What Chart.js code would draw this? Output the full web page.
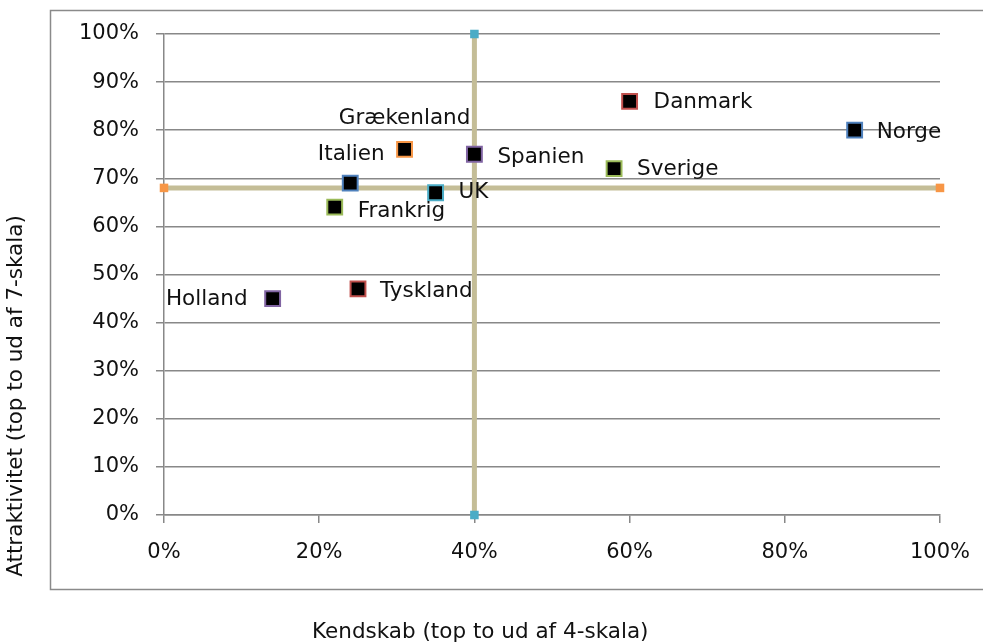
<!DOCTYPE html>
<html>
<head>
<meta charset="utf-8">
<script src="https://cdn.jsdelivr.net/npm/chart.js@4/dist/chart.umd.min.js"></script>
<style>
html,body{margin:0;padding:0;background:#fff;}
#wrap{width:983px;height:642px;position:relative;}
</style>
</head>
<body>
<div id="wrap"><canvas id="c" width="983" height="642"></canvas></div>
<script>
// ---- data ----
const countries = ["Norge","Danmark","Sverige","Spanien","UK","Grækenland","Italien","Tyskland","Frankrig","Holland"];
const kendskab = [89, 60, 58, 40, 35, 31, 24, 25, 22, 14];        // x, %
const attraktivitet = [80, 86, 72, 75, 67, 76, 69, 47, 64, 45];   // y, %
const xTicks = [0, 20, 40, 60, 80, 100];
const yTicks = [0, 10, 20, 30, 40, 50, 60, 70, 80, 90, 100];
const splitX = 40;   // vertical reference line
const splitY = 68;   // horizontal reference line

// ---- styles ----
const borderColors = ["#4f81bd","#c0504d","#9bbb59","#8064a2","#4bacc6","#f79646","#4f81bd","#c0504d","#9bbb59","#8064a2"];
// label placement: [dx, dy, align]
const labelPlace = {
  "Norge":[22,2,"left"], "Danmark":[24,1,"left"], "Sverige":[23,1,"left"],
  "Spanien":[23,3,"left"], "UK":[23,0,"left"], "Grækenland":[0,-31,"center"],
  "Italien":[1,-29,"center"], "Tyskland":[22,2,"left"], "Frankrig":[23,4,"left"],
  "Holland":[-25,1,"right"]
};
const FONT = "'DejaVu Sans', Verdana, sans-serif";
const TXT = '#111';

const points = countries.map((c,i)=>({x:kendskab[i], y:attraktivitet[i]}));

const decor = {
  id:'decor',
  beforeDraw(chart){
    const ctx = chart.ctx;
    ctx.save();
    ctx.fillStyle='#fff';
    ctx.fillRect(0,0,chart.width,chart.height);
    ctx.strokeStyle='#8a8a8a';
    ctx.lineWidth=1.5;
    ctx.beginPath();
    ctx.moveTo(1100,10.5); ctx.lineTo(50.5,10.5); ctx.lineTo(50.5,589.5); ctx.lineTo(1100,589.5);
    ctx.stroke();
    ctx.restore();
  },
  afterDraw(chart){
    const ctx = chart.ctx;
    const meta = chart.getDatasetMeta(0);
    ctx.save();
    ctx.fillStyle=TXT;
    ctx.font = "21.5px "+FONT;
    ctx.textBaseline='middle';
    meta.data.forEach((el,i)=>{
      const p = labelPlace[countries[i]];
      ctx.textAlign = p[2];
      ctx.fillText(countries[i], el.x+p[0], el.y+p[1]);
    });
    // axis titles
    ctx.font = "21.5px "+FONT;
    ctx.textAlign='left';
    ctx.fillText("Kendskab (top to ud af 4-skala)", 312, 632);
    ctx.textAlign='center';
    ctx.translate(16, 396);
    ctx.rotate(-Math.PI/2);
    ctx.fillText("Attraktivitet (top to ud af 7-skala)", 0, 0);
    ctx.restore();
  }
};

new Chart(document.getElementById('c'), {
  type:'scatter',
  data:{
    datasets:[
      {
        label:'Lande',
        data: points,
        pointStyle:'rect',
        pointRadius:10.5,
        pointHoverRadius:10.5,
        backgroundColor:'#000',
        pointBackgroundColor:'#000',
        pointBorderColor: borderColors,
        pointBorderWidth:2,
        order:0
      },
      {
        label:'Lodret',
        type:'line',
        data:[{x:splitX,y:0},{x:splitX,y:100}],
        borderColor:'#c4bd97',
        borderWidth:5,
        pointStyle:'rect',
        pointRadius:2.5,
        pointBackgroundColor:'#4bacc6',
        pointBorderColor:'#4bacc6',
        order:1
      },
      {
        label:'Vandret',
        type:'line',
        data:[{x:0,y:splitY},{x:100,y:splitY}],
        borderColor:'#c4bd97',
        borderWidth:5,
        pointStyle:'rect',
        pointRadius:2.5,
        pointBackgroundColor:'#f79646',
        pointBorderColor:'#f79646',
        order:1
      }
    ]
  },
  options:{
    responsive:false,
    animation:false,
    clip:false,
    layout:{padding:{top:34,right:43,left:0,bottom:0}},
    plugins:{legend:{display:false}, tooltip:{enabled:false}},
    scales:{
      x:{
        type:'linear', min:0, max:100,
        afterBuildTicks(s){ s.ticks = xTicks.map(v=>({value:v})); },
        afterFit(s){ s.height = 127; s.paddingLeft = 0; s.paddingRight = 0; },
        ticks:{ callback:v=>v+'%', color:TXT, font:{family:FONT,size:21}, padding:17, maxRotation:0 },
        grid:{ drawOnChartArea:false, drawTicks:true, tickLength:8, color:'#888', lineWidth:1.5 },
        border:{ display:true, color:'#888', width:1.5 }
      },
      y:{
        type:'linear', min:0, max:100,
        afterBuildTicks(s){ s.ticks = yTicks.map(v=>({value:v})); },
        afterFit(s){ s.width = 164; },
        ticks:{ callback:v=>v+'%', color:TXT, font:{family:FONT,size:21}, padding:17 },
        grid:{ drawOnChartArea:true, drawTicks:true, tickLength:8, color:'#888', lineWidth:1.5 },
        border:{ display:true, color:'#888', width:1.5 }
      }
    }
  },
  plugins:[decor]
});
</script>
</body>
</html>
